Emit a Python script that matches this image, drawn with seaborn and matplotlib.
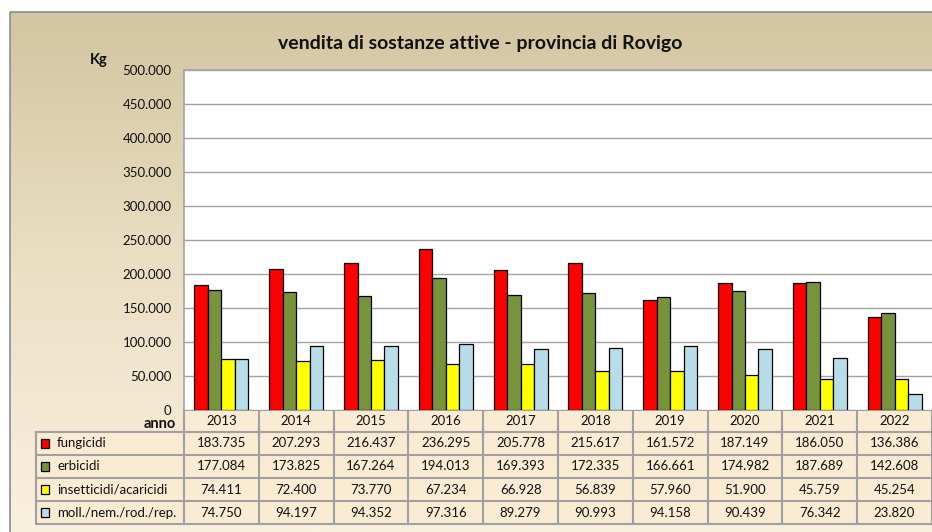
import numpy as np
import pandas as pd
import seaborn as sns
import matplotlib.pyplot as plt
from matplotlib.patches import Rectangle
from matplotlib.colors import LinearSegmentedColormap

anni = ['2013', '2014', '2015', '2016', '2017', '2018', '2019', '2020', '2021', '2022']
categorie = ['fungicidi', 'erbicidi', 'insetticidi/acaricidi', 'moll./nem./rod./rep.']
fungicidi = [183735, 207293, 216437, 236295, 205778, 215617, 161572, 187149, 186050, 136386]
erbicidi = [177084, 173825, 167264, 194013, 169393, 172335, 166661, 174982, 187689, 142608]
insetticidi = [74411, 72400, 73770, 67234, 66928, 56839, 57960, 51900, 45759, 45254]
molluschicidi = [74750, 94197, 94352, 97316, 89279, 90993, 94158, 90439, 76342, 23820]
colori = ['#ff0000', '#77933c', '#ffff00', '#b7dee8']
yticks = list(range(0, 500001, 50000))
titolo = 'vendita di sostanze attive - provincia di Rovigo'

serie = [fungicidi, erbicidi, insetticidi, molluschicidi]
df = pd.DataFrame({
    'anno': anni * len(categorie),
    'categoria': [c for c in categorie for _ in anni],
    'valore': [v for s in serie for v in s],
})


def fmt(v):
    return f'{v:,.0f}'.replace(',', '.')


sns.set_theme(style='white')
plt.rcParams['font.family'] = ['Lato', 'DejaVu Sans']

W, H = 932, 532
fig = plt.figure(figsize=(W / 100, H / 100), dpi=100)

# sfondo pergamena, coordinate in pixel
bg = fig.add_axes([0, 0, 1, 1])
cm = LinearSegmentedColormap.from_list('perg', ['#d3c5a1', '#ebe0c5', '#faf0de'])
bg.imshow(np.linspace(0, 1, 256)[:, None], extent=(10, W, H, 12), cmap=cm, aspect='auto')
bg.add_patch(Rectangle((10, 12), W, H, fill=False, edgecolor='#8c8c8c', lw=1.2))
bg.set_xlim(0, W)
bg.set_ylim(H, 0)
bg.axis('off')

bg.text(480, 44, titolo, ha='center', va='center', fontsize=14, weight='bold', color='#111111')
bg.text(99, 60, 'Kg', ha='center', va='center', fontsize=10.5, weight='bold', color='#111111')
bg.text(176, 424, 'anno', ha='right', va='center', fontsize=10.5, weight='bold', color='#111111')

# grafico a barre
L, T, B = 184, 70, 410
ax = fig.add_axes([L / W, 1 - B / H, (W - L) / W, (B - T) / H])
sns.barplot(data=df, x='anno', y='valore', hue='categoria', hue_order=categorie,
            palette=colori, saturation=1, width=0.72, gap=0, edgecolor='black',
            linewidth=0.9, legend=False, ax=ax)
ax.set_facecolor('white')
ax.set_ylim(0, 500000)
ax.set_xlim(-0.5, len(anni) - 0.5)
ax.set_yticks(yticks)
ax.set_yticklabels([fmt(v) for v in yticks], fontsize=9.5, color='#111111')
ax.set_xticks([])
ax.set_xlabel('')
ax.set_ylabel('')
ax.tick_params(axis='y', length=0, pad=9)
ax.yaxis.grid(True, color='#a3a3a3', lw=1)
ax.set_axisbelow(True)
for side in ['top', 'left']:
    ax.spines[side].set_color('#a3a3a3')
    ax.spines[side].set_linewidth(1.2)
for side in ['right', 'bottom']:
    ax.spines[side].set_visible(False)

# tabella dati
cw = (W - L) / len(anni)
hh, rh = 21.5, 23.2
righe = [B + hh + i * rh for i in range(len(categorie) + 1)]
cella = '#faebd3'
linea = '#a0a0a0'
bg.add_patch(Rectangle((L, B), W - L, hh, facecolor=cella, edgecolor='none'))
bg.add_patch(Rectangle((36, righe[0]), W - 36, righe[-1] - righe[0], facecolor=cella, edgecolor='none'))
for i in range(len(anni) + 1):
    bg.plot([L + i * cw] * 2, [B, righe[-1]], color=linea, lw=1.5)
bg.plot([36, 36], [righe[0], righe[-1]], color=linea, lw=1.5)
bg.plot([L, W], [B, B], color=linea, lw=1.5)
for y in righe:
    bg.plot([36, W], [y, y], color=linea, lw=1.5)
for j, a in enumerate(anni):
    bg.text(L + (j + 0.5) * cw, B + hh / 2, a, ha='center', va='center', fontsize=9.5, color='#111111')
for i, (nome, s, c) in enumerate(zip(categorie, serie, colori)):
    yc = righe[i] + rh / 2
    bg.add_patch(Rectangle((41, yc - 4.5), 8, 9, facecolor=c, edgecolor='black', lw=0.9))
    bg.text(57, yc, nome, ha='left', va='center', fontsize=9.5, color='#111111')
    for j, v in enumerate(s):
        bg.text(L + (j + 0.5) * cw, yc, fmt(v), ha='center', va='center', fontsize=9.5, color='#111111')

fig.savefig('out.png', dpi=100)
